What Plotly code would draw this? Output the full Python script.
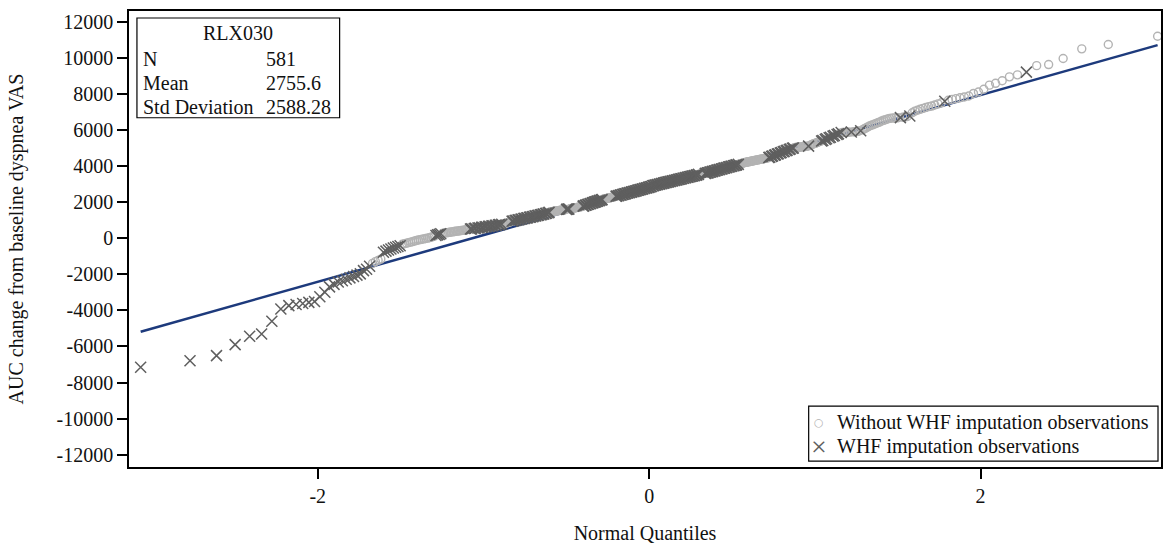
import plotly.graph_objects as go
from statistics import NormalDist

# ---------------- data ----------------
# Observations without WHF imputation (open circles)
without_whf = [
    -1400, -1300, -1230, -1160,
    -340, -310, -280, -250, -220, -190, -160, -130, -100, -80, -60, -40,
    -20, 0, 20, 50, 80, 110,
    260, 275, 290, 300, 315, 330, 340, 350, 365, 380, 390, 400, 410, 420, 430, 445, 455, 470, 485, 500,
    522, 555, 585, 612, 641, 671, 701, 731, 760,
    780, 795, 810, 825, 845, 860, 880, 900, 920,
    965, 1000, 1036, 1072, 1108, 1142, 1178, 1212, 1248, 1282, 1318, 1352, 1390,
    1450, 1458, 1465, 1472, 1480, 1487, 1495, 1502, 1510, 1516, 1522, 1530, 1537, 1544, 1550, 1557, 1563, 1570, 1578, 1585,
    1625, 1633, 1642, 1650, 1658, 1667, 1675, 1683, 1692, 1700, 1708, 1716, 1724, 1732, 1740, 1750, 1760,
    1805, 1850, 1895, 1940, 1982, 2024, 2066, 2108, 2150,
    2160, 2170, 2180, 2190, 2198, 2206, 2215, 2224, 2233, 2242, 2251, 2260, 2270, 2280, 2290, 2300, 2310,
    2343, 2374, 2410, 2440, 2476, 2505, 2541, 2571, 2608, 2637, 2673, 2703, 2740, 2770, 2806, 2835, 2878,
    2925, 2952, 2984, 3011, 3043, 3070, 3101, 3129, 3160, 3188, 3218, 3246, 3277, 3304, 3335, 3363, 3394, 3421, 3452, 3480, 3520,
    3545, 3549, 3553, 3557, 3561, 3565, 3570, 3575,
    3605, 3640, 3677, 3712, 3749, 3784, 3821, 3856, 3893, 3928, 3965, 4000, 4037, 4075,
    4105, 4118, 4130, 4142, 4155, 4166, 4178, 4190, 4200, 4210, 4220, 4230, 4240, 4250, 4260, 4270, 4280,
    4290, 4300, 4310, 4320, 4330, 4340, 4350, 4360, 4370, 4380, 4390, 4400, 4410, 4420, 4430, 4440, 4450,
    4508, 4573, 4637, 4702, 4766, 4831, 4895, 4960, 5015,
    5025, 5030, 5036, 5042, 5048, 5054, 5060, 5066, 5072, 5078, 5084, 5090,
    5130, 5160, 5190, 5215, 5240, 5265, 5290, 5315, 5340, 5365,
    5445, 5535, 5625, 5715, 5815,
    5855, 5860, 5864, 5868, 5872, 5876,
    5890, 5900, 5910, 5920, 5935,
    6000, 6050, 6100, 6150, 6200, 6240, 6280, 6320, 6360, 6400, 6440, 6490, 6530, 6570, 6600, 6640,
    6650, 6660, 6665, 6672,
    6700, 6720, 6745,
    6950, 7040,
    7090, 7140, 7190, 7240, 7290, 7320, 7380, 7440, 7500,
    7640, 7690, 7730, 7780, 7820, 7880, 8020, 8100, 8250, 8480, 8580, 8720, 8940, 9050,
    9560, 9620, 9955, 10490, 10730, 11190,
]

# WHF imputation observations (x markers)
with_whf = [
    -7150, -6790, -6510, -5900, -5440, -5310, -4610, -3930,
    -3740, -3680, -3620, -3560, -3510, -3250, -3000, -2700, -2560,
    -2430, -2360, -2280, -2200, -2120, -2050, -1980, -1800, -1720, -1560,
    -780, -720, -660, -600, -550, -500, -460, -420,
    150, 180, 210, 240,
    505, 515, 535, 548, 566, 574, 596, 604, 625, 633, 652, 664, 682, 690, 712, 720, 742, 751, 770,
    940, 952, 975, 990, 1012, 1025, 1050, 1060, 1085, 1095, 1120, 1130, 1155, 1165,
    1190, 1200, 1225, 1235, 1260, 1270, 1295, 1305, 1330, 1340, 1365, 1378, 1410, 1430,
    1595, 1600, 1608, 1615,
    1775, 1790, 1820, 1835, 1865, 1880, 1910, 1925, 1955, 1968, 1996, 2010, 2038, 2052, 2080, 2094, 2122, 2136,
    2320, 2329, 2351, 2366, 2388, 2395, 2417, 2432, 2453, 2461, 2484, 2497, 2520, 2527, 2550, 2563, 2586,
    2593, 2615, 2630, 2652, 2660, 2681, 2696, 2718, 2725, 2747, 2762, 2784, 2791, 2813, 2828, 2850, 2862,
    2905, 2912, 2931, 2944, 2963, 2971, 2990, 3003, 3022, 3030, 3050, 3062, 3081, 3090, 3110, 3120, 3140,
    3148, 3168, 3179, 3199, 3207, 3226, 3238, 3257, 3265, 3285, 3296, 3316, 3324, 3343, 3355, 3374, 3382,
    3402, 3413, 3433, 3441, 3460, 3472, 3492, 3505, 3535,
    3580, 3592, 3616, 3629, 3653, 3664, 3688, 3701, 3725, 3736, 3760, 3773, 3797, 3808, 3832,
    3845, 3869, 3880, 3904, 3917, 3941, 3952, 3976, 3989, 4013, 4024, 4048, 4061, 4090,
    4465, 4487, 4530, 4551, 4594, 4616, 4659, 4680, 4723, 4745, 4788, 4809, 4852, 4874, 4917, 4938, 4981, 5000,
    5100,
    5385, 5415, 5475, 5505, 5565, 5595, 5655, 5685, 5745, 5780, 5850,
    5880, 5950, 6680, 6770, 7590, 9200,
]

stats_title = "RLX030"
stats_labels = ["N", "Mean", "Std Deviation"]
stats_values = ["581", "2755.6", "2588.28"]
mean_val = 2755.6
std_val = 2588.28

x_tick_vals = [-2, 0, 2]
y_tick_vals = [-12000, -10000, -8000, -6000, -4000, -2000, 0,
               2000, 4000, 6000, 8000, 10000, 12000]

legend_names = ["Without WHF imputation observations", "WHF imputation observations"]
x_title = "Normal Quantiles"
y_title = "AUC change from baseline dyspnea VAS"

# ---------------- normal quantiles (Blom) of the pooled ranks ----------------
pooled = sorted([(v, 0) for v in without_whf] + [(v, 1) for v in with_whf])
n = len(pooled)
nd = NormalDist()
quant = [nd.inv_cdf((i + 1 - 0.375) / (n + 0.25)) for i in range(n)]

x_wo = [q for q, (v, g) in zip(quant, pooled) if g == 0]
y_wo = [v for (v, g) in pooled if g == 0]
x_w = [q for q, (v, g) in zip(quant, pooled) if g == 1]
y_w = [v for (v, g) in pooled if g == 1]

line_x = [quant[0], quant[-1]]
line_y = [mean_val + std_val * q for q in line_x]

FONT = "Liberation Serif, Times New Roman, serif"
TXT = "#111111"
CIRC_COL = "#b3b3b3"
X_COL = "#5f5f5f"

fig = go.Figure()
fig.add_trace(go.Scatter(x=line_x, y=line_y, mode="lines",
                         line=dict(color="#1d3a7c", width=2.5),
                         showlegend=False, hoverinfo="skip"))
fig.add_trace(go.Scatter(x=x_wo, y=y_wo, mode="markers", name=legend_names[0],
                         showlegend=False,
                         marker=dict(symbol="circle-open", size=8, color=CIRC_COL,
                                     line=dict(width=1.4, color=CIRC_COL))))
fig.add_trace(go.Scatter(x=x_w, y=y_w, mode="markers", name=legend_names[1],
                         showlegend=False,
                         marker=dict(symbol="x-thin", size=11, color=X_COL,
                                     line=dict(width=1.5, color=X_COL))))

axis_common = dict(showline=True, linecolor="black", linewidth=1.5, mirror=True,
                   showgrid=False, zeroline=False, ticks="outside", ticklen=10,
                   tickwidth=1.5, tickcolor="black",
                   tickfont=dict(family=FONT, size=20, color=TXT))

fig.update_xaxes(range=[-3.139, 3.089], tickvals=x_tick_vals,
                 ticktext=[str(v) for v in x_tick_vals],
                 title=dict(text=x_title, font=dict(family=FONT, size=20, color=TXT), standoff=20),
                 **axis_common)
fig.update_yaxes(range=[-12682, 12588], tickvals=y_tick_vals,
                 ticktext=[str(v) for v in y_tick_vals],
                 title=dict(text=y_title, font=dict(family=FONT, size=20, color=TXT), standoff=28),
                 **axis_common)

# ---------------- inset statistics box ----------------
fig.add_shape(type="rect", xref="paper", yref="paper",
              x0=0.0077, x1=0.2041, y0=0.7659, y1=0.9847,
              line=dict(color="black", width=1.2), fillcolor="white", layer="above")
fig.add_annotation(text=stats_title, xref="paper", yref="paper", x=0.1057, y=0.9512,
                   xanchor="center", yanchor="middle", showarrow=False,
                   font=dict(family=FONT, size=20, color=TXT))
row_y = [0.8943, 0.8418, 0.7893]
for lab, val, yy in zip(stats_labels, stats_values, row_y):
    fig.add_annotation(text=lab, xref="paper", yref="paper", x=0.0118, y=yy,
                       xanchor="left", yanchor="middle", showarrow=False,
                       font=dict(family=FONT, size=20, color=TXT))
    fig.add_annotation(text=val, xref="paper", yref="paper", x=0.1312, y=yy,
                       xanchor="left", yanchor="middle", showarrow=False,
                       font=dict(family=FONT, size=20, color=TXT))

# ---------------- legend box (bottom right) ----------------
fig.add_shape(type="rect", xref="paper", yref="paper",
              x0=0.6586, x1=0.9971, y0=0.0131, y1=0.1335,
              line=dict(color="black", width=1.2), fillcolor="white", layer="above")
legend_rows = [0.0985, 0.0460]
legend_symbols = [("○", CIRC_COL, 11, "DejaVu Sans"), ("×", X_COL, 28, FONT)]
for name, (sym, col, sz, fam), yy in zip(legend_names, legend_symbols, legend_rows):
    fig.add_annotation(text=sym, xref="paper", yref="paper", x=0.6683, y=yy,
                       xanchor="center", yanchor="middle", showarrow=False,
                       font=dict(family=fam, size=sz, color=col))
    fig.add_annotation(text=name, xref="paper", yref="paper", x=0.6838, y=yy,
                       xanchor="left", yanchor="middle", showarrow=False,
                       font=dict(family=FONT, size=20, color=TXT))

fig.update_layout(
    width=1167, height=545,
    margin=dict(l=129, r=4, t=11, b=77),
    paper_bgcolor="white", plot_bgcolor="white",
    font=dict(family=FONT, size=20, color=TXT),
    showlegend=False,
)

fig.write_html("out.html", config={"displayModeBar": False},
               post_script="document.body.style.margin='0';document.body.style.padding='0';")
